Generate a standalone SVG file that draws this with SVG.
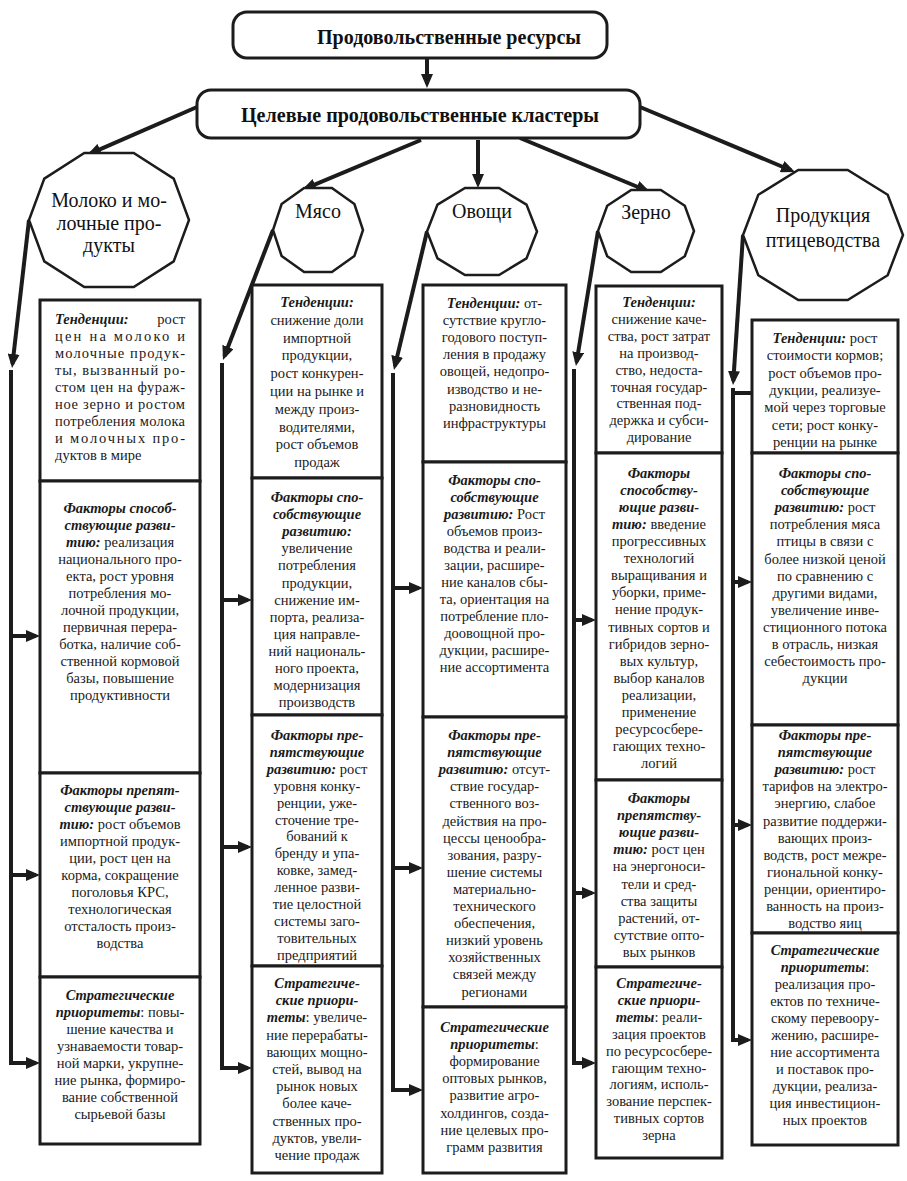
<svg xmlns="http://www.w3.org/2000/svg" width="907" height="1181" viewBox="0 0 907 1181">
<style>
.rb{fill:#fff;stroke:#1c1c1c;stroke-width:3}
.bx{fill:#fff;stroke:#1c1c1c;stroke-width:3}
.oc{fill:#fff;stroke:#1c1c1c;stroke-width:2.5}
text{font-family:'Liberation Serif','Tinos','DejaVu Serif',serif}
.title{font-weight:bold;font-size:20px;fill:#111;text-anchor:middle}
.on{font-size:20px;fill:#111;text-anchor:middle}
.t{font-size:14.5px;fill:#1a1a1a;text-anchor:middle}
.j{text-anchor:start}
.e{text-anchor:end}
.h{font-weight:bold;font-style:italic}
.c{stroke:#1c1c1c;stroke-width:4;fill:none;stroke-linejoin:miter}
</style>
<defs>
<marker id="ah" viewBox="0 0 14 12" refX="10" refY="6" markerWidth="14" markerHeight="12" markerUnits="userSpaceOnUse" orient="auto"><path d="M0,0 L14,6 L0,12 z" fill="#1c1c1c"/></marker>
</defs>

<g id="connectors">
<path class="c" d="M427,58 V84" marker-end="url(#ah)"/>
<path class="c" d="M197,107 L90.7,153.4" marker-end="url(#ah)"/>
<path class="c" d="M421,140 L305.7,188.4" marker-end="url(#ah)"/>
<path class="c" d="M478,140 V184" marker-end="url(#ah)"/>
<path class="c" d="M520,138 L646.3,190.5" marker-end="url(#ah)"/>
<path class="c" d="M640,107 L791.3,170.5" marker-end="url(#ah)"/>

<path class="c" d="M29,220 L12.5,364" marker-end="url(#ah)"/>
<path class="c" d="M11,370 V1063 H36" marker-end="url(#ah)"/>
<path class="c" d="M11,636 H36" marker-end="url(#ah)"/>
<path class="c" d="M11,875 H36" marker-end="url(#ah)"/>

<path class="c" d="M273,230 L224.4,356.3" marker-end="url(#ah)"/>
<path class="c" d="M222,363 V1068 H248" marker-end="url(#ah)"/>
<path class="c" d="M222,600 H248" marker-end="url(#ah)"/>
<path class="c" d="M222,847 H248" marker-end="url(#ah)"/>

<path class="c" d="M427,231.5 L394.9,366.1" marker-end="url(#ah)"/>
<path class="c" d="M393,373 V1090 H419" marker-end="url(#ah)"/>
<path class="c" d="M393,588 H419" marker-end="url(#ah)"/>
<path class="c" d="M393,868 H419" marker-end="url(#ah)"/>

<path class="c" d="M598,231 L576.6,362" marker-end="url(#ah)"/>
<path class="c" d="M574,369 V1063 H592" marker-end="url(#ah)"/>
<path class="c" d="M574,620 H592" marker-end="url(#ah)"/>
<path class="c" d="M574,893 H592" marker-end="url(#ah)"/>

<path class="c" d="M743,235 L733.3,381" marker-end="url(#ah)"/>
<path class="c" d="M733,388 V1040 H748" marker-end="url(#ah)"/>
<path class="c" d="M733,393 H752"/>
<path class="c" d="M733,582 H748" marker-end="url(#ah)"/>
<path class="c" d="M733,825 H748" marker-end="url(#ah)"/>
</g>

<g id="food-resources">
<rect class="rb" x="233" y="12" width="374" height="46" rx="14"/>
<text class="title" x="449" y="44" textLength="264" lengthAdjust="spacingAndGlyphs">Продовольственные ресурсы</text>
</g>
<g id="target-clusters">
<rect class="rb" x="197" y="90" width="443" height="48" rx="14"/>
<text class="title" x="420" y="122" textLength="358" lengthAdjust="spacingAndGlyphs">Целевые продовольственные кластеры</text>
</g>

<g id="milk">
<polygon class="oc" points="189,220 173.7,261.4 133.7,287 84.3,287 44.3,261.4 29,220 44.3,178.6 84.3,153 133.7,153 173.7,178.6"/>
<text class="on" x="109" y="207">Молоко и мо-<tspan x="109" dy="22.5">лочные про-</tspan><tspan x="109" dy="22.5">дукты</tspan></text>
</g>
<g id="meat">
<polygon class="oc" points="363,230 354.4,256 331.9,272 304.1,272 281.6,256 273,230 281.6,204 304.1,188 331.9,188 354.4,204"/>
<text class="on" x="318" y="218">Мясо</text>
</g>
<g id="vegetables">
<polygon class="oc" points="537,231.5 526.5,258.4 499,275 465,275 437.5,258.4 427,231.5 437.5,204.6 465,188 499,188 526.5,204.6"/>
<text class="on" x="482" y="218">Овощи</text>
</g>
<g id="grain">
<polygon class="oc" points="694,231 684.8,256.3 660.8,272 631.2,272 607.2,256.3 598,231 607.2,205.7 631.2,190 660.8,190 684.8,205.7"/>
<text class="on" x="646" y="219">Зерно</text>
</g>
<g id="poultry">
<polygon class="oc" points="903,235 887.7,275.2 847.7,300 798.3,300 758.3,275.2 743,235 758.3,194.8 798.3,170 847.7,170 887.7,194.8"/>
<text class="on" x="823" y="222">Продукция<tspan x="823" dy="25">птицеводства</tspan></text>
</g>

<!-- Column 1: milk -->
<g id="milk-trends">
<rect class="bx" x="40" y="300" width="160" height="181"/>
<text class="t j h" x="55" y="324">Тенденции:</text>
<text class="t e" x="185" y="324">рост</text>
<text class="t j" x="55" y="341" textLength="130" lengthAdjust="spacing">цен на молоко и</text>
<text class="t j" x="55" y="358" textLength="130" lengthAdjust="spacing">молочные продук-</text>
<text class="t j" x="55" y="375" textLength="130" lengthAdjust="spacing">ты, вызванный ро-</text>
<text class="t j" x="55" y="392" textLength="130" lengthAdjust="spacing">стом цен на фураж-</text>
<text class="t j" x="55" y="409" textLength="130" lengthAdjust="spacing">ное зерно и ростом</text>
<text class="t j" x="55" y="426" textLength="130" lengthAdjust="spacing">потребления молока</text>
<text class="t j" x="55" y="443" textLength="130" lengthAdjust="spacing">и молочных про-</text>
<text class="t j" x="55" y="460">дуктов в мире</text>
</g>
<g id="milk-promoting">
<rect class="bx" x="40" y="481" width="160" height="292"/>
<text class="t" x="120" y="513"><tspan class="h">Факторы способ-</tspan><tspan class="h" x="120" dy="17">ствующие разви-</tspan><tspan x="120" dy="17"><tspan class="h">тию:</tspan> реализация</tspan><tspan x="120" dy="17">национального про-</tspan><tspan x="120" dy="17">екта, рост уровня</tspan><tspan x="120" dy="17">потребления мо-</tspan><tspan x="120" dy="17">лочной продукции,</tspan><tspan x="120" dy="17">первичная перера-</tspan><tspan x="120" dy="17">ботка, наличие соб-</tspan><tspan x="120" dy="17">ственной кормовой</tspan><tspan x="120" dy="17">базы, повышение</tspan><tspan x="120" dy="17">продуктивности</tspan></text>
</g>
<g id="milk-hindering">
<rect class="bx" x="40" y="773" width="160" height="204"/>
<text class="t" x="120" y="795"><tspan class="h">Факторы препят-</tspan><tspan class="h" x="120" dy="17">ствующие разви-</tspan><tspan x="120" dy="17"><tspan class="h">тию:</tspan> рост объемов</tspan><tspan x="120" dy="17">импортной продук-</tspan><tspan x="120" dy="17">ции, рост цен на</tspan><tspan x="120" dy="17">корма, сокращение</tspan><tspan x="120" dy="17">поголовья КРС,</tspan><tspan x="120" dy="17">технологическая</tspan><tspan x="120" dy="17">отсталость произ-</tspan><tspan x="120" dy="17">водства</tspan></text>
</g>
<g id="milk-priorities">
<rect class="bx" x="40" y="977" width="160" height="167"/>
<text class="t" x="120" y="1000"><tspan class="h">Стратегические</tspan><tspan x="120" dy="17"><tspan class="h">приоритеты</tspan>: повы-</tspan><tspan x="120" dy="17">шение качества и</tspan><tspan x="120" dy="17">узнаваемости товар-</tspan><tspan x="120" dy="17">ной марки, укрупне-</tspan><tspan x="120" dy="17">ние рынка, формиро-</tspan><tspan x="120" dy="17">вание собственной</tspan><tspan x="120" dy="17">сырьевой базы</tspan></text>
</g>

<!-- Column 2: meat -->
<g id="meat-trends">
<rect class="bx" x="252" y="285" width="130" height="193"/>
<text class="t" x="317" y="307"><tspan class="h">Тенденции:</tspan><tspan x="317" dy="17.8">снижение доли</tspan><tspan x="317" dy="17.8">импортной</tspan><tspan x="317" dy="17.8">продукции,</tspan><tspan x="317" dy="17.8">рост конкурен-</tspan><tspan x="317" dy="17.8">ции на рынке и</tspan><tspan x="317" dy="17.8">между произ-</tspan><tspan x="317" dy="17.8">водителями,</tspan><tspan x="317" dy="17.8">рост объемов</tspan><tspan x="317" dy="17.8">продаж</tspan></text>
</g>
<g id="meat-promoting">
<rect class="bx" x="252" y="478" width="130" height="237"/>
<text class="t" x="317" y="502"><tspan class="h">Факторы спо-</tspan><tspan class="h" x="317" dy="17.1">собствующие</tspan><tspan class="h" x="317" dy="17.1">развитию:</tspan><tspan x="317" dy="17.1">увеличение</tspan><tspan x="317" dy="17.1">потребления</tspan><tspan x="317" dy="17.1">продукции,</tspan><tspan x="317" dy="17.1">снижение им-</tspan><tspan x="317" dy="17.1">порта, реализа-</tspan><tspan x="317" dy="17.1">ция направле-</tspan><tspan x="317" dy="17.1">ний националь-</tspan><tspan x="317" dy="17.1">ного проекта,</tspan><tspan x="317" dy="17.1">модернизация</tspan><tspan x="317" dy="17.1">производств</tspan></text>
</g>
<g id="meat-hindering">
<rect class="bx" x="252" y="715" width="130" height="251"/>
<text class="t" x="317" y="740"><tspan class="h">Факторы пре-</tspan><tspan class="h" x="317" dy="16.9">пятствующие</tspan><tspan x="317" dy="16.9"><tspan class="h">развитию:</tspan> рост</tspan><tspan x="317" dy="16.9">уровня конку-</tspan><tspan x="317" dy="16.9">ренции, уже-</tspan><tspan x="317" dy="16.9">сточение тре-</tspan><tspan x="317" dy="16.9">бований к</tspan><tspan x="317" dy="16.9">бренду и упа-</tspan><tspan x="317" dy="16.9">ковке, замед-</tspan><tspan x="317" dy="16.9">ленное разви-</tspan><tspan x="317" dy="16.9">тие целостной</tspan><tspan x="317" dy="16.9">системы заго-</tspan><tspan x="317" dy="16.9">товительных</tspan><tspan x="317" dy="16.9">предприятий</tspan></text>
</g>
<g id="meat-priorities">
<rect class="bx" x="252" y="966" width="130" height="207"/>
<text class="t" x="317" y="988"><tspan class="h">Стратегиче-</tspan><tspan class="h" x="317" dy="17.2">ские приори-</tspan><tspan x="317" dy="17.2"><tspan class="h">теты</tspan>: увеличе-</tspan><tspan x="317" dy="17.2">ние перерабаты-</tspan><tspan x="317" dy="17.2">вающих мощно-</tspan><tspan x="317" dy="17.2">стей, вывод на</tspan><tspan x="317" dy="17.2">рынок новых</tspan><tspan x="317" dy="17.2">более каче-</tspan><tspan x="317" dy="17.2">ственных про-</tspan><tspan x="317" dy="17.2">дуктов, увели-</tspan><tspan x="317" dy="17.2">чение продаж</tspan></text>
</g>

<!-- Column 3: vegetables -->
<g id="veg-trends">
<rect class="bx" x="423" y="285" width="143" height="177"/>
<text class="t" x="494.5" y="308"><tspan><tspan class="h">Тенденции:</tspan> от-</tspan><tspan x="494.5" dy="17.1">сутствие кругло-</tspan><tspan x="494.5" dy="17.1">годового поступ-</tspan><tspan x="494.5" dy="17.1">ления в продажу</tspan><tspan x="494.5" dy="17.1">овощей, недопро-</tspan><tspan x="494.5" dy="17.1">изводство и не-</tspan><tspan x="494.5" dy="17.1">разновидность</tspan><tspan x="494.5" dy="17.1">инфраструктуры</tspan></text>
</g>
<g id="veg-promoting">
<rect class="bx" x="423" y="462" width="143" height="255"/>
<text class="t" x="494.5" y="485"><tspan class="h">Факторы спо-</tspan><tspan class="h" x="494.5" dy="17">собствующие</tspan><tspan x="494.5" dy="17"><tspan class="h">развитию:</tspan> Рост</tspan><tspan x="494.5" dy="17">объемов произ-</tspan><tspan x="494.5" dy="17">водства и реали-</tspan><tspan x="494.5" dy="17">зации, расшире-</tspan><tspan x="494.5" dy="17">ние каналов сбы-</tspan><tspan x="494.5" dy="17">та, ориентация на</tspan><tspan x="494.5" dy="17">потребление пло-</tspan><tspan x="494.5" dy="17">доовощной про-</tspan><tspan x="494.5" dy="17">дукции, расшире-</tspan><tspan x="494.5" dy="17">ние ассортимента</tspan></text>
</g>
<g id="veg-hindering">
<rect class="bx" x="423" y="717" width="143" height="290"/>
<text class="t" x="494.5" y="740"><tspan class="h">Факторы пре-</tspan><tspan class="h" x="494.5" dy="17.1">пятствующие</tspan><tspan x="494.5" dy="17.1"><tspan class="h">развитию:</tspan> отсут-</tspan><tspan x="494.5" dy="17.1">ствие государ-</tspan><tspan x="494.5" dy="17.1">ственного воз-</tspan><tspan x="494.5" dy="17.1">действия на про-</tspan><tspan x="494.5" dy="17.1">цессы ценообра-</tspan><tspan x="494.5" dy="17.1">зования, разру-</tspan><tspan x="494.5" dy="17.1">шение системы</tspan><tspan x="494.5" dy="17.1">материально-</tspan><tspan x="494.5" dy="17.1">технического</tspan><tspan x="494.5" dy="17.1">обеспечения,</tspan><tspan x="494.5" dy="17.1">низкий уровень</tspan><tspan x="494.5" dy="17.1">хозяйственных</tspan><tspan x="494.5" dy="17.1">связей между</tspan><tspan x="494.5" dy="17.1">регионами</tspan></text>
</g>
<g id="veg-priorities">
<rect class="bx" x="423" y="1007" width="143" height="166"/>
<text class="t" x="494.5" y="1032"><tspan class="h">Стратегические</tspan><tspan x="494.5" dy="17.1"><tspan class="h">приоритеты</tspan>:</tspan><tspan x="494.5" dy="17.1">формирование</tspan><tspan x="494.5" dy="17.1">оптовых рынков,</tspan><tspan x="494.5" dy="17.1">развитие агро-</tspan><tspan x="494.5" dy="17.1">холдингов, созда-</tspan><tspan x="494.5" dy="17.1">ние целевых про-</tspan><tspan x="494.5" dy="17.1">грамм развития</tspan></text>
</g>

<!-- Column 4: grain -->
<g id="grain-trends">
<rect class="bx" x="596" y="286" width="126" height="167"/>
<text class="t" x="659" y="307"><tspan class="h">Тенденции:</tspan><tspan x="659" dy="16.9">снижение каче-</tspan><tspan x="659" dy="16.9">ства, рост затрат</tspan><tspan x="659" dy="16.9">на производ-</tspan><tspan x="659" dy="16.9">ство, недоста-</tspan><tspan x="659" dy="16.9">точная государ-</tspan><tspan x="659" dy="16.9">ственная под-</tspan><tspan x="659" dy="16.9">держка и субси-</tspan><tspan x="659" dy="16.9">дирование</tspan></text>
</g>
<g id="grain-promoting">
<rect class="bx" x="596" y="453" width="126" height="327"/>
<text class="t" x="659" y="478"><tspan class="h">Факторы</tspan><tspan class="h" x="659" dy="17.06">способству-</tspan><tspan class="h" x="659" dy="17.06">ющие разви-</tspan><tspan x="659" dy="17.06"><tspan class="h">тию:</tspan> введение</tspan><tspan x="659" dy="17.06">прогрессивных</tspan><tspan x="659" dy="17.06">технологий</tspan><tspan x="659" dy="17.06">выращивания и</tspan><tspan x="659" dy="17.06">уборки, приме-</tspan><tspan x="659" dy="17.06">нение продук-</tspan><tspan x="659" dy="17.06">тивных сортов и</tspan><tspan x="659" dy="17.06">гибридов зерно-</tspan><tspan x="659" dy="17.06">вых культур,</tspan><tspan x="659" dy="17.06">выбор каналов</tspan><tspan x="659" dy="17.06">реализации,</tspan><tspan x="659" dy="17.06">применение</tspan><tspan x="659" dy="17.06">ресурсосбере-</tspan><tspan x="659" dy="17.06">гающих техно-</tspan><tspan x="659" dy="17.06">логий</tspan></text>
</g>
<g id="grain-hindering">
<rect class="bx" x="596" y="780" width="126" height="187"/>
<text class="t" x="659" y="803"><tspan class="h">Факторы</tspan><tspan class="h" x="659" dy="17.1">препятству-</tspan><tspan class="h" x="659" dy="17.1">ющие разви-</tspan><tspan x="659" dy="17.1"><tspan class="h">тию:</tspan> рост цен</tspan><tspan x="659" dy="17.1">на энергоноси-</tspan><tspan x="659" dy="17.1">тели и сред-</tspan><tspan x="659" dy="17.1">ства защиты</tspan><tspan x="659" dy="17.1">растений, от-</tspan><tspan x="659" dy="17.1">сутствие опто-</tspan><tspan x="659" dy="17.1">вых рынков</tspan></text>
</g>
<g id="grain-priorities">
<rect class="bx" x="596" y="967" width="126" height="191"/>
<text class="t" x="659" y="988"><tspan class="h">Стратегиче-</tspan><tspan class="h" x="659" dy="16.9">ские приори-</tspan><tspan x="659" dy="16.9"><tspan class="h">теты</tspan>: реали-</tspan><tspan x="659" dy="16.9">зация проектов</tspan><tspan x="659" dy="16.9">по ресурсосбере-</tspan><tspan x="659" dy="16.9">гающим техно-</tspan><tspan x="659" dy="16.9">логиям, исполь-</tspan><tspan x="659" dy="16.9">зование перспек-</tspan><tspan x="659" dy="16.9">тивных сортов</tspan><tspan x="659" dy="16.9">зерна</tspan></text>
</g>

<!-- Column 5: poultry -->
<g id="poultry-trends">
<rect class="bx" x="752" y="320" width="146" height="133"/>
<text class="t" x="825" y="343"><tspan><tspan class="h">Тенденции:</tspan> рост</tspan><tspan x="825" dy="17.3">стоимости кормов;</tspan><tspan x="825" dy="17.3">рост объемов про-</tspan><tspan x="825" dy="17.3">дукции, реализуе-</tspan><tspan x="825" dy="17.3">мой через торговые</tspan><tspan x="825" dy="17.3">сети; рост конку-</tspan><tspan x="825" dy="17.3">ренции на рынке</tspan></text>
</g>
<g id="poultry-promoting">
<rect class="bx" x="752" y="453" width="146" height="272"/>
<text class="t" x="825" y="478"><tspan class="h">Факторы спо-</tspan><tspan class="h" x="825" dy="17.1">собствующие</tspan><tspan x="825" dy="17.1"><tspan class="h">развитию:</tspan> рост</tspan><tspan x="825" dy="17.1">потребления мяса</tspan><tspan x="825" dy="17.1">птицы в связи с</tspan><tspan x="825" dy="17.1">более низкой ценой</tspan><tspan x="825" dy="17.1">по сравнению с</tspan><tspan x="825" dy="17.1">другими видами,</tspan><tspan x="825" dy="17.1">увеличение инве-</tspan><tspan x="825" dy="17.1">стиционного потока</tspan><tspan x="825" dy="17.1">в отрасль, низкая</tspan><tspan x="825" dy="17.1">себестоимость про-</tspan><tspan x="825" dy="17.1">дукции</tspan></text>
</g>
<g id="poultry-hindering">
<rect class="bx" x="752" y="725" width="146" height="208"/>
<text class="t" x="825" y="740"><tspan class="h">Факторы пре-</tspan><tspan class="h" x="825" dy="17.1">пятствующие</tspan><tspan x="825" dy="17.1"><tspan class="h">развитию:</tspan> рост</tspan><tspan x="825" dy="17.1">тарифов на электро-</tspan><tspan x="825" dy="17.1">энергию, слабое</tspan><tspan x="825" dy="17.1">развитие поддержи-</tspan><tspan x="825" dy="17.1">вающих произ-</tspan><tspan x="825" dy="17.1">водств, рост межре-</tspan><tspan x="825" dy="17.1">гиональной конку-</tspan><tspan x="825" dy="17.1">ренции, ориентиро-</tspan><tspan x="825" dy="17.1">ванность на произ-</tspan><tspan x="825" dy="17.1">водство яиц</tspan></text>
</g>
<g id="poultry-priorities">
<rect class="bx" x="752" y="933" width="146" height="212"/>
<text class="t" x="825" y="955"><tspan class="h">Стратегические</tspan><tspan x="825" dy="17"><tspan class="h">приоритеты</tspan>:</tspan><tspan x="825" dy="17">реализация про-</tspan><tspan x="825" dy="17">ектов по техниче-</tspan><tspan x="825" dy="17">скому перевоору-</tspan><tspan x="825" dy="17">жению, расшире-</tspan><tspan x="825" dy="17">ние ассортимента</tspan><tspan x="825" dy="17">и поставок про-</tspan><tspan x="825" dy="17">дукции, реализа-</tspan><tspan x="825" dy="17">ция инвестицион-</tspan><tspan x="825" dy="17">ных проектов</tspan></text>
</g>
</svg>
